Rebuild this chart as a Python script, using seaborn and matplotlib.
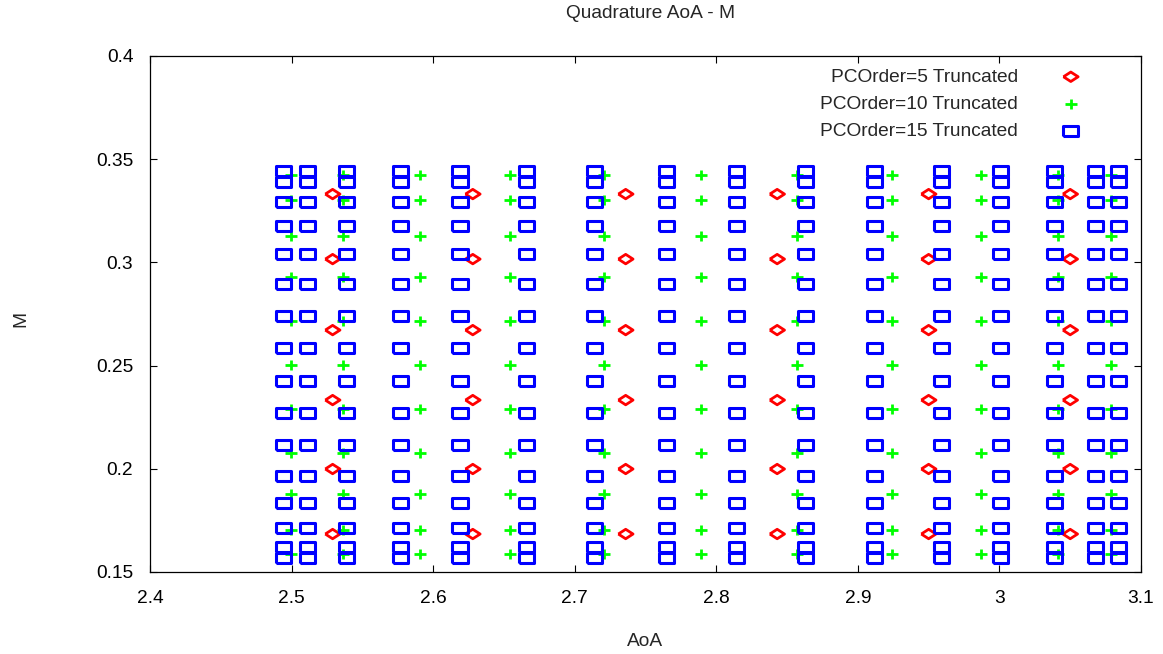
import itertools
import pandas as pd
import matplotlib
matplotlib.use("Agg")
import matplotlib.pyplot as plt
from matplotlib.path import Path
import seaborn as sns

TITLE = "Quadrature AoA - M"
X_LABEL = "AoA"
Y_LABEL = "M"
SERIES = ["PCOrder=5 Truncated", "PCOrder=10 Truncated", "PCOrder=15 Truncated"]

# 1-D quadrature nodes (the plotted sets are tensor grids of these)
AOA_P5 = [2.529, 2.628, 2.736, 2.843, 2.950, 3.050]
M_P5 = [0.3331, 0.3016, 0.2672, 0.2333, 0.1999, 0.1684]

AOA_P10 = [2.4996, 2.5363, 2.5907, 2.6543, 2.7207, 2.7892,
           2.8570, 2.9241, 2.9870, 3.0414, 3.0788]
M_P10 = [0.3423, 0.3302, 0.3128, 0.2929, 0.2716, 0.2503,
         0.2290, 0.2077, 0.1878, 0.1704, 0.1587]

AOA_P15 = [2.494, 2.511, 2.539, 2.577, 2.619, 2.666, 2.714, 2.765,
           2.814, 2.863, 2.912, 2.959, 3.001, 3.039, 3.068, 3.084]
M_P15 = [0.3443, 0.3390, 0.3293, 0.3176, 0.3041, 0.2895, 0.2740, 0.2585,
         0.2425, 0.2270, 0.2115, 0.1965, 0.1834, 0.1713, 0.1621, 0.1568]

X_TICKS = [2.4, 2.5, 2.6, 2.7, 2.8, 2.9, 3.0, 3.1]
X_TICK_LABELS = ["2.4", "2.5", "2.6", "2.7", "2.8", "2.9", "3", "3.1"]
Y_TICKS = [0.15, 0.2, 0.25, 0.3, 0.35, 0.4]
Y_TICK_LABELS = ["0.15", "0.2", "0.25", "0.3", "0.35", "0.4"]

# Build long-form table
rows = []
for name, xs, ys in zip(SERIES, [AOA_P5, AOA_P10, AOA_P15], [M_P5, M_P10, M_P15]):
    for a, m in itertools.product(xs, ys):
        rows.append({"series": name, "AoA": a, "M": m})
df = pd.DataFrame(rows)

sns.set_style("ticks")
plt.rcParams["font.family"] = ["Liberation Sans", "DejaVu Sans"]
FS = 13.8

diamond = [(-1.55, 0.0), (0.0, -1.0), (1.55, 0.0), (0.0, 1.0), (-1.55, 0.0)]
rect = [(-1.5, -1.0), (1.5, -1.0), (1.5, 1.0), (-1.5, 1.0), (-1.5, -1.0)]
plus = Path([(-1.2, 0.0), (1.2, 0.0), (0.0, -1.0), (0.0, 1.0)],
            [Path.MOVETO, Path.LINETO, Path.MOVETO, Path.LINETO])

styles = {
    SERIES[0]: dict(marker=diamond, s=112, color="#ff0000", lw=2.0),
    SERIES[1]: dict(marker=plus, s=82, color="#00ff00", lw=2.0),
    SERIES[2]: dict(marker=rect, s=118, color="#0000ff", lw=2.2),
}

fig = plt.figure(figsize=(11.63, 6.54), dpi=100)
ax = fig.add_axes([150 / 1163, 1 - 572 / 654, 991 / 1163, 516 / 654])

for name in SERIES:
    st = styles[name]
    sns.scatterplot(data=df[df["series"] == name], x="AoA", y="M", ax=ax,
                    marker=st["marker"], s=st["s"], color=st["color"],
                    facecolor="none", edgecolor=st["color"], linewidth=st["lw"],
                    label=name, legend=False, zorder=3)

ax.set_xlim(2.4, 3.1)
ax.set_ylim(0.15, 0.4)
ax.set_xticks(X_TICKS)
ax.set_xticklabels(X_TICK_LABELS)
ax.set_yticks(Y_TICKS)
ax.set_yticklabels(Y_TICK_LABELS)
ax.tick_params(direction="in", length=5, width=0.8, top=True, right=True,
               labelsize=FS, colors="black")
ax.tick_params(axis="x", pad=13)
ax.tick_params(axis="y", pad=12)
for sp in ax.spines.values():
    sp.set_visible(True)
    sp.set_linewidth(0.9)
    sp.set_color("black")

ax.set_xlabel(X_LABEL, fontsize=FS)
ax.set_ylabel(Y_LABEL, fontsize=FS)
ax.xaxis.set_label_coords(0.5, -0.118)
ax.yaxis.set_label_coords(-0.122, 0.49)
fig.text(651 / 1163, 1 - 14 / 654, TITLE, ha="center", va="center", fontsize=FS)

leg = ax.legend(loc="upper right", bbox_to_anchor=(0.9485, 0.976), frameon=False,
                markerfirst=False, fontsize=FS, handlelength=2.0, handletextpad=1.75,
                labelspacing=0.5, borderpad=0, borderaxespad=0, scatterpoints=1)

fig.savefig("out.png", dpi=100)
